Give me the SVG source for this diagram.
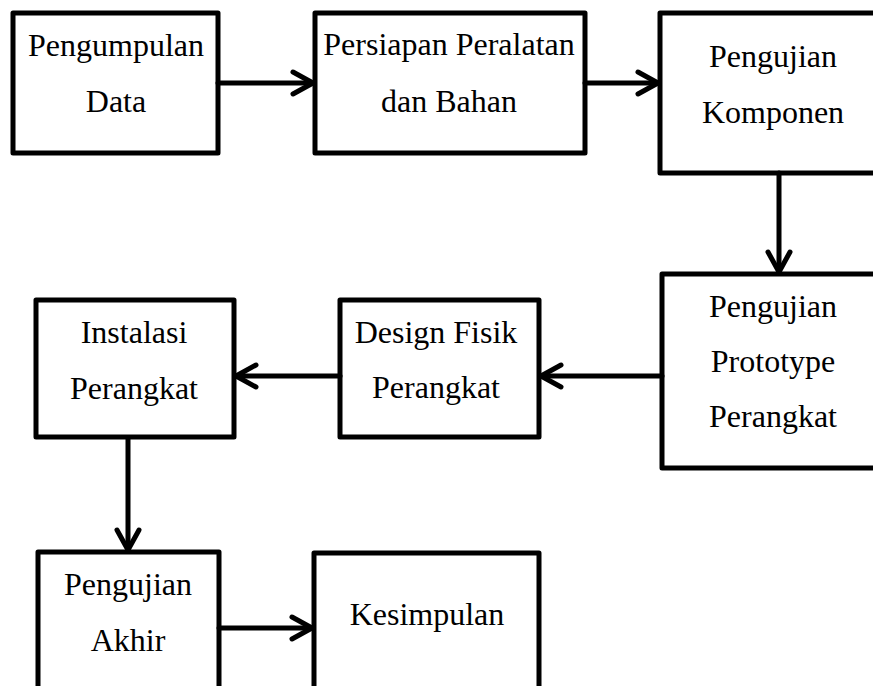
<svg xmlns="http://www.w3.org/2000/svg" width="873" height="686" viewBox="0 0 873 686">
<defs>
<style>
.box{fill:#fff;stroke:#000;stroke-width:5;stroke-linejoin:round}
.lbl{font-size:32px;fill:#000;text-anchor:middle}
.con{fill:none;stroke:#000;stroke-width:5;stroke-linecap:round}
</style>
<marker id="arr" markerUnits="userSpaceOnUse" markerWidth="30" markerHeight="30" viewBox="-25 -15 30 30" refX="0" refY="0" orient="auto" overflow="visible">
<path d="M-20,-11 L0,0 L-20,11" fill="none" stroke="#000" stroke-width="5" stroke-linecap="round" stroke-linejoin="round"/>
</marker>
</defs>
<rect width="873" height="686" fill="#fff"/>
<g font-family="'Liberation Serif', 'Times New Roman', serif">
<g id="n1">
<rect class="box" x="13" y="13" width="205" height="140"/>
<text class="lbl" x="116" y="56">Pengumpulan</text>
<text class="lbl" x="116" y="112">Data</text>
</g>
<g id="n2">
<rect class="box" x="315" y="13" width="270" height="140"/>
<text class="lbl" x="449" y="55">Persiapan Peralatan</text>
<text class="lbl" x="449" y="112">dan Bahan</text>
</g>
<g id="n3">
<rect class="box" x="660" y="13" width="226" height="160"/>
<text class="lbl" x="773" y="67">Pengujian</text>
<text class="lbl" x="773" y="123">Komponen</text>
</g>
<g id="n4">
<rect class="box" x="662" y="274" width="224" height="194"/>
<text class="lbl" x="773" y="317">Pengujian</text>
<text class="lbl" x="773" y="372">Prototype</text>
<text class="lbl" x="773" y="427">Perangkat</text>
</g>
<g id="n5">
<rect class="box" x="340" y="300" width="199" height="137"/>
<text class="lbl" x="436" y="343">Design Fisik</text>
<text class="lbl" x="436" y="398">Perangkat</text>
</g>
<g id="n6">
<rect class="box" x="36" y="300" width="198" height="137"/>
<text class="lbl" x="134" y="343">Instalasi</text>
<text class="lbl" x="134" y="399">Perangkat</text>
</g>
<g id="n7">
<rect class="box" x="38" y="552" width="181" height="150"/>
<text class="lbl" x="128" y="595">Pengujian</text>
<text class="lbl" x="128" y="651">Akhir</text>
</g>
<g id="n8">
<rect class="box" x="314" y="553" width="225" height="150"/>
<text class="lbl" x="427" y="625">Kesimpulan</text>
</g>
</g>
<g id="connectors">
<path class="con" d="M218,83 H313" marker-end="url(#arr)"/>
<path class="con" d="M585,83 H658" marker-end="url(#arr)"/>
<path class="con" d="M779,173 V272" marker-end="url(#arr)"/>
<path class="con" d="M662,376 H541" marker-end="url(#arr)"/>
<path class="con" d="M340,376 H236" marker-end="url(#arr)"/>
<path class="con" d="M128,438 V550" marker-end="url(#arr)"/>
<path class="con" d="M219,628 H312" marker-end="url(#arr)"/>
</g>
</svg>
